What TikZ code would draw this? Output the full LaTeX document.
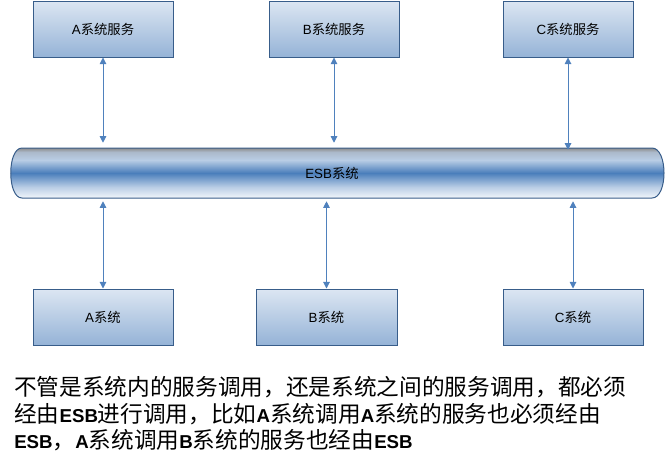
\documentclass[tikz,border=0pt]{standalone}
\usepackage{fontspec}
\setmainfont{Liberation Sans}
\newfontfamily\cjk{Noto Sans CJK SC}
\usetikzlibrary{arrows.meta,positioning}
\newcommand{\zh}[1]{{\cjk #1}}
\newcommand{\en}[1]{{\fontsize{14}{20}\selectfont\bfseries #1}}
\definecolor{boxtop}{HTML}{DCE6F2}
\definecolor{boxbot}{HTML}{95B3D7}
\definecolor{boxline}{HTML}{385D8A}
\definecolor{linkcol}{HTML}{4F81BD}
\definecolor{tubemid}{HTML}{4A7EBB}
\definecolor{tubelight}{HTML}{B9CDE5}
\definecolor{tubebot}{HTML}{F2F6FB}
\definecolor{tubegray}{HTML}{8C8C8C}
\pgfdeclareverticalshading{esbtube}{100bp}{color(0bp)=(tubebot); color(25bp)=(tubebot); color(36bp)=(tubelight); color(50bp)=(tubemid); color(63bp)=(tubelight); color(71bp)=(tubelight!70!tubegray); color(75bp)=(tubegray); color(100bp)=(tubegray)}

\begin{document}
\begin{tikzpicture}[x=0.75pt,y=-0.75pt,
  sysbox/.style={draw=boxline,line width=0.75pt,top color=boxtop,bottom color=boxbot,minimum height=42pt},
  link/.style={draw=linkcol,line width=0.75pt,{Triangle[length=5pt,width=5pt]}-{Triangle[length=5pt,width=5pt]}}]
\useasboundingbox (0,0) rectangle (666,454);

\node[sysbox,minimum width=105pt] (sa) at (103,29) {A\zh{系统服务}};
\node[sysbox,minimum width=97.5pt] (sb) at (334,29) {B\zh{系统服务}};
\node[sysbox,minimum width=97.5pt] (sc) at (568,29) {C\zh{系统服务}};

\shadedraw[draw=boxline,line width=0.75pt,shading=esbtube] (22,148) -- (652,148) .. controls (668,148) and (668,198) .. (652,198) -- (22,198) .. controls (7,198) and (7,148) .. (22,148) -- cycle;
\node[minimum height=37.5pt] (esb) at (332,173) {ESB\zh{系统}};

\node[sysbox,minimum width=105pt] (a) at (103,317) {A\zh{系统}};
\node[sysbox,minimum width=105.75pt] (b) at (326.5,317) {B\zh{系统}};
\node[sysbox,minimum width=105pt] (c) at (573,317) {C\zh{系统}};

\draw[link,shorten >=3.75pt] (sa) -- (sa |- esb.north);
\draw[link,shorten >=3.75pt] (sb) -- (sb |- esb.north);
\draw[link,shorten >=-1.5pt] (sc) -- (sc |- esb.north);
\draw[link,shorten <=2.25pt] (esb.south -| a) -- (a);
\draw[link,shorten <=2.25pt] (esb.south -| b) -- (b);
\draw[link,shorten <=2.25pt] (esb.south -| c) -- (c);

\node[anchor=north west,align=left,inner sep=0pt,font=\fontsize{17}{20}\selectfont] (note) at (14,376)
  {\zh{不管是系统内的服务调用，还是系统之间的服务调用，都必须}\\
   \zh{经由}\en{ESB}\zh{进行调用，比如}\en{A}\zh{系统调用}\en{A}\zh{系统的服务也必须经由}\\
   \en{ESB}\zh{，}\en{A}\zh{系统调用}\en{B}\zh{系统的服务也经由}\en{ESB}};
\end{tikzpicture}
\end{document}
